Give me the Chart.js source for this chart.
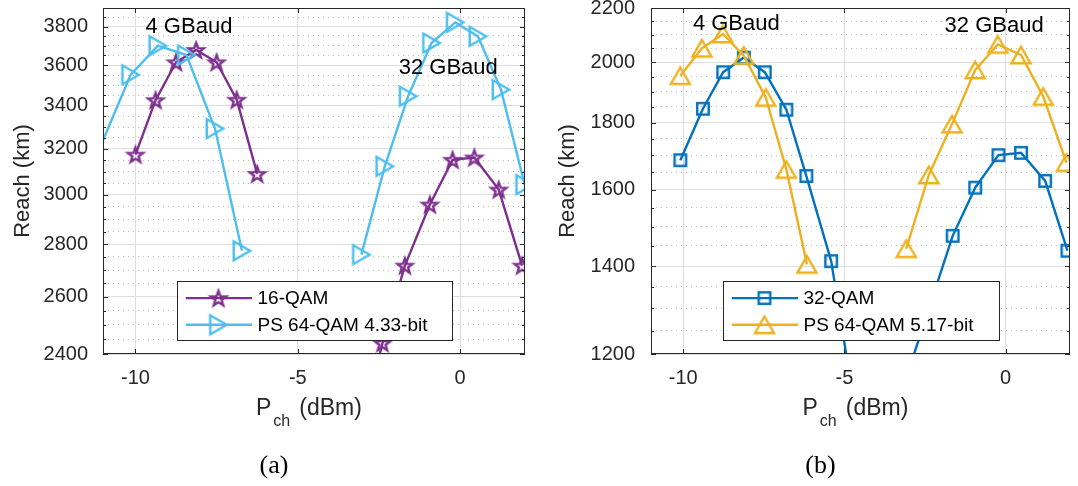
<!DOCTYPE html>
<html><head><meta charset="utf-8">
<script src="https://cdn.jsdelivr.net/npm/chart.js@4/dist/chart.umd.min.js"></script>
<style>
html,body{margin:0;padding:0;background:#fff;}
#wrap{position:relative;width:1078px;height:486px;overflow:hidden;background:#fff;}
.box{position:absolute;top:0;height:486px;}
</style></head><body>
<div id="wrap">
<div class="box" style="left:0;width:540px"><canvas id="ca" width="540" height="486"></canvas></div>
<div class="box" style="left:540px;width:538px"><canvas id="cb" width="538" height="486"></canvas></div>
</div>
<script>
// ---------- data ----------
// (a) 16-QAM
const pchA16_4G   = [-10.0, -9.38, -8.75, -8.13, -7.5, -6.88, -6.25];
const reachA16_4G = [3175, 3427, 3614, 3677, 3614, 3429, 3090];
const pchA16_32G   = [-3.1, -2.39, -1.70, -0.93, -0.23, 0.44, 1.19, 1.91];
const reachA16_32G = [2140, 2437, 2717, 2960, 3152, 3162, 3023, 2717];
// (a) PS 64-QAM 4.33-bit
const pchAPS_4G   = [-11.2, -10.15, -9.31, -8.43, -7.55, -6.72];
const reachAPS_4G = [3170, 3551, 3699, 3651, 3293, 2774];
const pchAPS_32G   = [-3.04, -2.32, -1.60, -0.88, -0.15, 0.55, 1.26, 1.99];
const reachAPS_32G = [2759, 3123, 3446, 3713, 3822, 3748, 3478, 3044];
// (b) 32-QAM
const pchB32_4G   = [-10.09, -9.39, -8.76, -8.12, -7.47, -6.80, -6.18, -5.41, -4.76];
const reachB32_4G = [1685, 1844, 1966, 2017, 1966, 1841, 1639, 1412, 1125];
const pchB32_32G   = [-3.05, -1.64, -0.94, -0.22, 0.48, 1.23, 1.92];
const reachB32_32G = [1157, 1476, 1606, 1700, 1707, 1625, 1438];
// (b) PS 64-QAM 5.17-bit
const pchBPS_4G   = [-10.09, -9.42, -8.77, -8.12, -7.44, -6.80, -6.16];
const reachBPS_4G = [1954, 2050, 2102, 2024, 1881, 1658, 1404];
const pchBPS_32G   = [-3.08, -2.38, -1.66, -0.94, -0.24, 0.48, 1.17, 1.89];
const reachBPS_32G = [1443, 1642, 1795, 1974, 2064, 2026, 1884, 1678];

// axes / ticks
const xRange = [-11, 2];
const xTicks = [-10, -5, 0];
const yRangeA = [2400, 3900];
const yMajorA = [2400, 2600, 2800, 3000, 3200, 3400, 3600, 3800];
const yRangeB = [1200, 2200];
const yMajorB = [1200, 1400, 1600, 1800, 2000, 2200];
const yMinorStep = 50;

// labels
const legendA = ['16-QAM', 'PS 64-QAM 4.33-bit'];
const legendB = ['32-QAM', 'PS 64-QAM 5.17-bit'];
const annotA = [{text: '4 GBaud', x: -9.69, y: 3800}, {text: '32 GBaud', x: -1.89, y: 3585}];
const annotB = [{text: '4 GBaud', x: -9.70, y: 2141}, {text: '32 GBaud', x: -1.89, y: 2133}];

// ---------- styling ----------
const FONT = "'Liberation Sans', Arial, Helvetica, sans-serif";
const SERIF = "'Liberation Serif', 'Times New Roman', serif";
const AX = '#262626';
const PURPLE = '#7E2F8E', LBLUE = '#4DBEEE', BLUE = '#0072BD', YELLOW = '#EDB120';
const LW = 2.4;

function mk(size, draw) {
  const c = document.createElement('canvas');
  c.width = size; c.height = size;
  const g = c.getContext('2d');
  g.lineWidth = LW; g.lineJoin = 'miter';
  draw(g, size / 2);
  return c;
}
const starImg = mk(24, (g, c) => {
  g.beginPath();
  for (let i = 0; i < 10; i++) {
    const r = i % 2 ? 3.3 : 8.0;
    const a = -Math.PI / 2 + i * Math.PI / 5;
    const px = c + r * Math.cos(a), py = c + 0.8 + r * Math.sin(a);
    i ? g.lineTo(px, py) : g.moveTo(px, py);
  }
  g.closePath(); g.strokeStyle = PURPLE; g.stroke();
});
const triRImg = mk(30, (g, c) => {
  const r = 11;
  g.beginPath();
  g.moveTo(c + 0.75 * r, c);
  g.lineTo(c - 0.75 * r, c - 0.866 * r);
  g.lineTo(c - 0.75 * r, c + 0.866 * r);
  g.closePath(); g.strokeStyle = LBLUE; g.stroke();
});
const triUImg = mk(30, (g, c) => {
  const r = 11;
  g.beginPath();
  g.moveTo(c, c - 0.75 * r);
  g.lineTo(c + 0.866 * r, c + 0.75 * r);
  g.lineTo(c - 0.866 * r, c + 0.75 * r);
  g.closePath(); g.strokeStyle = YELLOW; g.stroke();
});
const sqImg = mk(20, (g, c) => {
  g.strokeStyle = BLUE; g.strokeRect(c - 5.75, c - 5.75, 11.5, 11.5);
});

function pts(xs, ys) { return xs.map((x, i) => ({x: x, y: ys[i]})); }

function ds(label, xs, ys, color, img, yr) {
  return {
    label: label, data: pts(xs, ys), borderColor: color, backgroundColor: color,
    borderWidth: LW, tension: 0, fill: false, showLine: true,
    pointStyle: img, pointBorderWidth: 0,
    pointRadius: (ctx) => {
      const p = ctx.raw; if (!p) return 0;
      return (p.x < xRange[0] || p.x > xRange[1] || p.y < yr[0] || p.y > yr[1]) ? 0 : 8;
    },
    pointHoverRadius: 8
  };
}

function minorList(r) { const a = []; for (let v = r[0]; v <= r[1] + 1e-6; v += yMinorStep) a.push(v); return a; }

const decor = {
  id: 'decor',
  afterDraw(chart, args, o) {
    const ctx = chart.ctx, a = chart.chartArea, xs = chart.scales.x, ys = chart.scales.y;
    ctx.save();
    // box
    ctx.strokeStyle = AX; ctx.lineWidth = 1;
    ctx.strokeRect(Math.round(a.left) + 0.5, Math.round(a.top) + 0.5, Math.round(a.right - a.left) - 1, Math.round(a.bottom - a.top) - 1);
    // inward ticks
    ctx.beginPath();
    minorList(o.yr).forEach(v => {
      const py = Math.round(ys.getPixelForValue(v)) + 0.5;
      const len = o.major.includes(v) ? 5 : 3;
      ctx.moveTo(a.left, py); ctx.lineTo(a.left + len, py);
      ctx.moveTo(a.right, py); ctx.lineTo(a.right - len, py);
    });
    xTicks.forEach(v => {
      const px = Math.round(xs.getPixelForValue(v)) + 0.5;
      ctx.moveTo(px, a.top); ctx.lineTo(px, a.top + 5);
      ctx.moveTo(px, a.bottom); ctx.lineTo(px, a.bottom - 5);
    });
    ctx.stroke();
    // annotations
    ctx.fillStyle = '#000'; ctx.font = '22px ' + FONT; ctx.textAlign = 'left'; ctx.textBaseline = 'middle';
    o.annot.forEach(t => ctx.fillText(t.text, xs.getPixelForValue(t.x), ys.getPixelForValue(t.y)));
    // legend
    const cx = (a.left + a.right) / 2;
    const bw = o.lw, bh = 59, bl = Math.round(cx - bw / 2) + 0.5, bt = Math.round(a.bottom - 14 - bh) + 0.5;
    ctx.fillStyle = '#fff'; ctx.fillRect(bl, bt, bw, bh);
    ctx.strokeStyle = AX; ctx.lineWidth = 1; ctx.strokeRect(bl, bt, bw, bh);
    o.legend.forEach((e, i) => {
      const y = bt + 16.6 + i * 26.7;
      ctx.strokeStyle = e.color; ctx.lineWidth = LW;
      ctx.beginPath(); ctx.moveTo(bl + 8.3, y); ctx.lineTo(bl + 74.5, y); ctx.stroke();
      ctx.drawImage(e.img, bl + 41 - e.img.width / 2, y - e.img.height / 2);
      ctx.fillStyle = '#000'; ctx.font = '19px ' + FONT; ctx.textAlign = 'left'; ctx.textBaseline = 'middle';
      ctx.fillText(e.text, bl + 80, y + 1);
    });
    // x-axis title  P_ch (dBm)
    ctx.fillStyle = AX; ctx.textBaseline = 'alphabetic'; ctx.textAlign = 'left';
    let x0 = cx - 58;
    ctx.font = '23px ' + FONT; ctx.fillText('P', x0, 415); x0 += ctx.measureText('P').width + 2;
    ctx.font = '16px ' + FONT; ctx.fillText('ch', x0, 426); x0 += ctx.measureText('ch').width + 9;
    ctx.font = '23px ' + FONT; ctx.fillText('(dBm)', x0, 415);
    // caption
    ctx.fillStyle = '#000'; ctx.font = '26px ' + SERIF; ctx.textAlign = 'center'; ctx.textBaseline = 'middle';
    ctx.fillText(o.caption, cx - 40, 466);
    ctx.restore();
  }
};

function makeChart(id, o) {
  const minors = minorList(o.yr);
  return new Chart(document.getElementById(id), {
    type: 'line',
    data: {datasets: o.datasets},
    plugins: [decor],
    options: {
      responsive: false, animation: false, events: [], devicePixelRatio: 1,
      layout: {padding: {left: 0, right: o.padR, top: 6, bottom: 0}},
      plugins: {legend: {display: false}, tooltip: {enabled: false},
        decor: {yr: o.yr, major: o.major, annot: o.annot, legend: o.legend, lw: o.lw, caption: o.caption}},
      scales: {
        x: {
          type: 'linear', min: xRange[0], max: xRange[1],
          afterBuildTicks: s => { s.ticks = xTicks.map(v => ({value: v})); },
          afterFit: s => { s.height = 132; s.paddingLeft = 0; s.paddingRight = 0; },
          ticks: {font: {family: FONT, size: 20}, color: AX, padding: 12, autoSkip: false, maxRotation: 0,
                  callback: v => String(v)},
          grid: {color: '#dedede', lineWidth: 1, drawTicks: false},
          border: {display: false}
        },
        y: {
          type: 'logarithmic', min: o.yr[0], max: o.yr[1],
          afterBuildTicks: s => { s.ticks = minors.map(v => ({value: v})); },
          afterFit: s => { s.width = o.yw; s.paddingTop = 0; s.paddingBottom = 0; },
          ticks: {font: {family: FONT, size: 20}, color: AX, padding: o.tp, autoSkip: false,
                  callback: v => o.major.includes(v) ? String(v) : ''},
          grid: {drawTicks: false, lineWidth: 1,
                 color: c => (c.tick && o.major.includes(c.tick.value)) ? '#dedede' : '#bcbcbc'},
          border: {display: false,
                 dash: c => (c.tick && !o.major.includes(c.tick.value)) ? [1, 4] : []},
          title: {display: true, text: 'Reach (km)', color: AX, font: {family: FONT, size: 22},
                  padding: {top: o.titlePad, bottom: 0}}
        }
      }
    }
  });
}

makeChart('ca', {
  yr: yRangeA, major: yMajorA, annot: annotA, lw: 275, caption: '(a)', padR: 15, yw: 103, tp: 15, titlePad: 10,
  legend: [{text: legendA[0], color: PURPLE, img: starImg}, {text: legendA[1], color: LBLUE, img: triRImg}],
  datasets: [
    ds(legendA[1], pchAPS_4G, reachAPS_4G, LBLUE, triRImg, yRangeA),
    ds(legendA[1], pchAPS_32G, reachAPS_32G, LBLUE, triRImg, yRangeA),
    ds(legendA[0], pchA16_4G, reachA16_4G, PURPLE, starImg, yRangeA),
    ds(legendA[0], pchA16_32G, reachA16_32G, PURPLE, starImg, yRangeA)
  ]
});
makeChart('cb', {
  yr: yRangeB, major: yMajorB, annot: annotB, lw: 276, caption: '(b)', padR: 6, yw: 111, tp: 16, titlePad: 15,
  legend: [{text: legendB[0], color: BLUE, img: sqImg}, {text: legendB[1], color: YELLOW, img: triUImg}],
  datasets: [
    ds(legendB[1], pchBPS_4G, reachBPS_4G, YELLOW, triUImg, yRangeB),
    ds(legendB[1], pchBPS_32G, reachBPS_32G, YELLOW, triUImg, yRangeB),
    ds(legendB[0], pchB32_4G, reachB32_4G, BLUE, sqImg, yRangeB),
    ds(legendB[0], pchB32_32G, reachB32_32G, BLUE, sqImg, yRangeB)
  ]
});
</script>
</body></html>
